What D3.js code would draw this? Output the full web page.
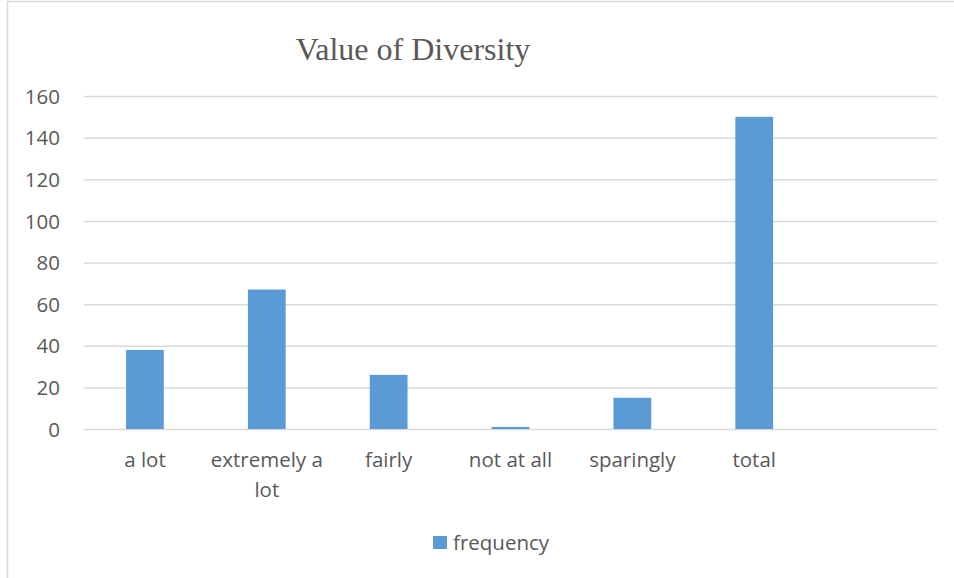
<!DOCTYPE html>
<html>
<head>
<meta charset="utf-8">
<script src="https://cdn.jsdelivr.net/npm/d3@7"></script>
<style>
  html, body { margin: 0; padding: 0; background: #fff; }
  svg { display: block; }
</style>
</head>
<body>
<svg id="chart" width="954" height="578"></svg>
<script>
// Survey responses: how much diversity is valued
const categories = ["a lot", "extremely a lot", "fairly", "not at all", "sparingly", "total", ""];
const frequency = [38, 67, 26, 1, 15, 150, null];
const yTicks = [0, 20, 40, 60, 80, 100, 120, 140, 160];
const seriesName = "frequency";
const chartTitle = "Value of Diversity";

const W = 954, H = 578;
const margin = { left: 84, right: 17, top: 96, bottom: 149 };
const svg = d3.select("#chart");
const labelFont = "'Open Sans', 'Noto Sans', sans-serif";
const labelSize = "20.5px";
const textColor = "#595959";
const barColor = "#5b9bd5";
const gridColor = "#d9d9d9";

// chart frame
svg.append("rect")
  .attr("x", 7.5).attr("y", 1.5)
  .attr("width", 1200).attr("height", 1200)
  .attr("fill", "none").attr("stroke", gridColor).attr("stroke-width", 1.5);

const x = d3.scaleBand()
  .domain(categories)
  .range([margin.left, W - margin.right])
  .paddingInner(0.69)
  .paddingOuter(0.345);

const y = d3.scaleLinear()
  .domain([0, 160])
  .range([H - margin.bottom, margin.top]);

// horizontal gridlines and value labels
const yAxis = d3.axisLeft(y)
  .tickValues(yTicks)
  .tickSize(-(W - margin.left - margin.right))
  .tickPadding(24)
  .tickFormat(d3.format("d"));

const gy = svg.append("g")
  .attr("transform", `translate(${margin.left},0)`)
  .call(yAxis);
gy.select(".domain").remove();
gy.selectAll(".tick line").attr("stroke", gridColor).attr("stroke-width", 1.5);
gy.selectAll(".tick text")
  .attr("fill", textColor)
  .style("font-family", labelFont)
  .style("font-size", labelSize)
  .attr("dy", "0.35em");

// bars
const data = categories.map((c, i) => ({ cat: c, v: frequency[i] })).filter(d => d.v != null);
svg.append("g").selectAll("rect")
  .data(data)
  .join("rect")
  .attr("x", d => x(d.cat))
  .attr("width", x.bandwidth())
  .attr("y", d => y(d.v))
  .attr("height", d => y(0) - y(d.v))
  .attr("fill", barColor);

// category labels, wrapped to the slot width
const xAxis = d3.axisBottom(x).tickSize(0);
const gx = svg.append("g")
  .attr("transform", `translate(0,${H - margin.bottom})`)
  .call(xAxis);
gx.select(".domain").remove();
gx.selectAll(".tick text")
  .attr("fill", textColor)
  .style("font-family", labelFont)
  .style("font-size", labelSize)
  .attr("y", 38)
  .attr("dy", null)
  .each(function(d) {
    const t = d3.select(this);
    const words = d.split(" ");
    const maxW = x.step() - 6;
    t.text(null);
    let line = [];
    let tspan = t.append("tspan").attr("x", 0).attr("dy", 0);
    words.forEach(w => {
      line.push(w);
      tspan.text(line.join(" "));
      if (tspan.node().getComputedTextLength() > maxW && line.length > 1) {
        line.pop();
        tspan.text(line.join(" "));
        line = [w];
        tspan = t.append("tspan").attr("x", 0).attr("dy", 30).text(w);
      }
    });
  });

// title
svg.append("text")
  .attr("x", 413).attr("y", 60)
  .attr("text-anchor", "middle")
  .attr("fill", textColor)
  .style("font-family", "'Liberation Serif', 'DejaVu Serif', serif")
  .style("font-size", "32px")
  .text(chartTitle);

// legend
const lg = svg.append("g").attr("transform", "translate(433,536)");
lg.append("rect").attr("width", 14).attr("height", 13).attr("fill", barColor);
lg.append("text")
  .attr("x", 20).attr("y", 14)
  .attr("fill", textColor)
  .style("font-family", labelFont)
  .style("font-size", labelSize)
  .text(seriesName);
</script>
</body>
</html>
